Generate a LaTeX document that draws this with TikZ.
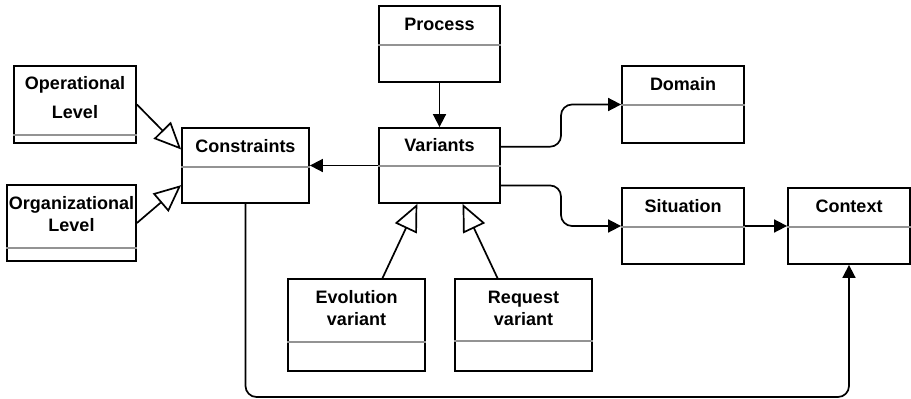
\documentclass[tikz,border=0pt]{standalone}
\usepackage{fontspec}
\setmainfont{Liberation Sans}
\usepackage{tikz}
\usetikzlibrary{arrows, arrows.meta}
\usetikzlibrary{positioning}

\tikzset{
  umlbox/.style={draw, line width=1.8pt, inner sep=0pt},
  umltext/.style={font=\fontsize{18}{22}\selectfont\bfseries, align=center},
  sepline/.style={draw=gray!85, line width=1.6pt},
  assoc/.style={-{Triangle[length=13pt,width=13pt]}, line width=1.7pt, rounded corners=11pt},
  gener/.style={-{Triangle[open,length=27pt,width=24pt,fill=white]}, line width=1.7pt}
}

\begin{document}
\begin{tikzpicture}[x=1pt, y=-1pt]
\useasboundingbox (0,0) rectangle (911,399);

\node[umlbox, minimum width=122pt, minimum height=77pt] (oplevel) at (75,104.5) {};
\node[umltext] (oplevel-t) at (75,98) {Operational\\[7pt]Level};
\draw[sepline] ([yshift=9pt]oplevel.south west) -- ([yshift=9pt]oplevel.south east);

\node[umlbox, minimum width=129pt, minimum height=76pt] (orglevel) at (71.5,223) {};
\node[umltext] (orglevel-t) at (71.5,214) {Organizational\\Level};
\draw[sepline] ([yshift=14pt]orglevel.south west) -- ([yshift=14pt]orglevel.south east);

\node[umlbox, minimum width=127pt, minimum height=75pt] (constraints) at (245.5,165.5) {};
\node[umltext] (constraints-t) at (245.5,146) {Constraints};
\draw[sepline] ([yshift=37pt]constraints.south west) -- ([yshift=37pt]constraints.south east);

\node[umlbox, minimum width=121pt, minimum height=76pt] (process) at (439.5,44) {};
\node[umltext] (process-t) at (439.5,24) {Process};
\draw[sepline] ([yshift=38pt]process.south west) -- ([yshift=38pt]process.south east);

\node[umlbox, minimum width=121pt, minimum height=75pt] (variants) at (439.5,165.5) {};
\node[umltext] (variants-t) at (439.5,145) {Variants};
\draw[sepline] ([yshift=38pt]variants.south west) -- ([yshift=38pt]variants.south east);

\node[umlbox, minimum width=122pt, minimum height=77pt] (domain) at (683,104.5) {};
\node[umltext] (domain-t) at (683,84) {Domain};
\draw[sepline] ([yshift=39pt]domain.south west) -- ([yshift=39pt]domain.south east);

\node[umlbox, minimum width=122pt, minimum height=76pt] (situation) at (683,226) {};
\node[umltext] (situation-t) at (683,206) {Situation};
\draw[sepline] ([yshift=38pt]situation.south west) -- ([yshift=38pt]situation.south east);

\node[umlbox, minimum width=122pt, minimum height=76pt] (context) at (849,226) {};
\node[umltext] (context-t) at (849,206) {Context};
\draw[sepline] ([yshift=38pt]context.south west) -- ([yshift=38pt]context.south east);

\node[umlbox, minimum width=137pt, minimum height=92pt] (evolution) at (356.5,325) {};
\node[umltext] (evolution-t) at (356.5,308) {Evolution\\variant};
\draw[sepline] ([yshift=30pt]evolution.south west) -- ([yshift=30pt]evolution.south east);

\node[umlbox, minimum width=137pt, minimum height=92pt] (request) at (523.5,325) {};
\node[umltext] (request-t) at (523.5,308) {Request\\variant};
\draw[sepline] ([yshift=31pt]request.south west) -- ([yshift=31pt]request.south east);

% bends
\coordinate (dbend) at (561,0);
\coordinate (cbend) at (0,397);

\draw[gener] (oplevel.east) -- (constraints.166);
\draw[gener] (orglevel.east) -- (constraints.197);
\draw[assoc] (variants.west) -- (constraints.east);
\draw[assoc] (process.south) -- (variants.north);
\draw[assoc] (variants.17) -| (dbend |- domain.west) -- (domain.west);
\draw[assoc] (variants.-18) -| (dbend |- situation.west) -- (situation.west);
\draw[assoc] (situation.east) -- (context.west);
\draw[assoc] (constraints.south) -- (constraints.south |- cbend) -| (context.south);
\draw[gener] (evolution.61) -- (variants.240);
\draw[gener] (request.119) -- (variants.301);

\end{tikzpicture}
\end{document}
